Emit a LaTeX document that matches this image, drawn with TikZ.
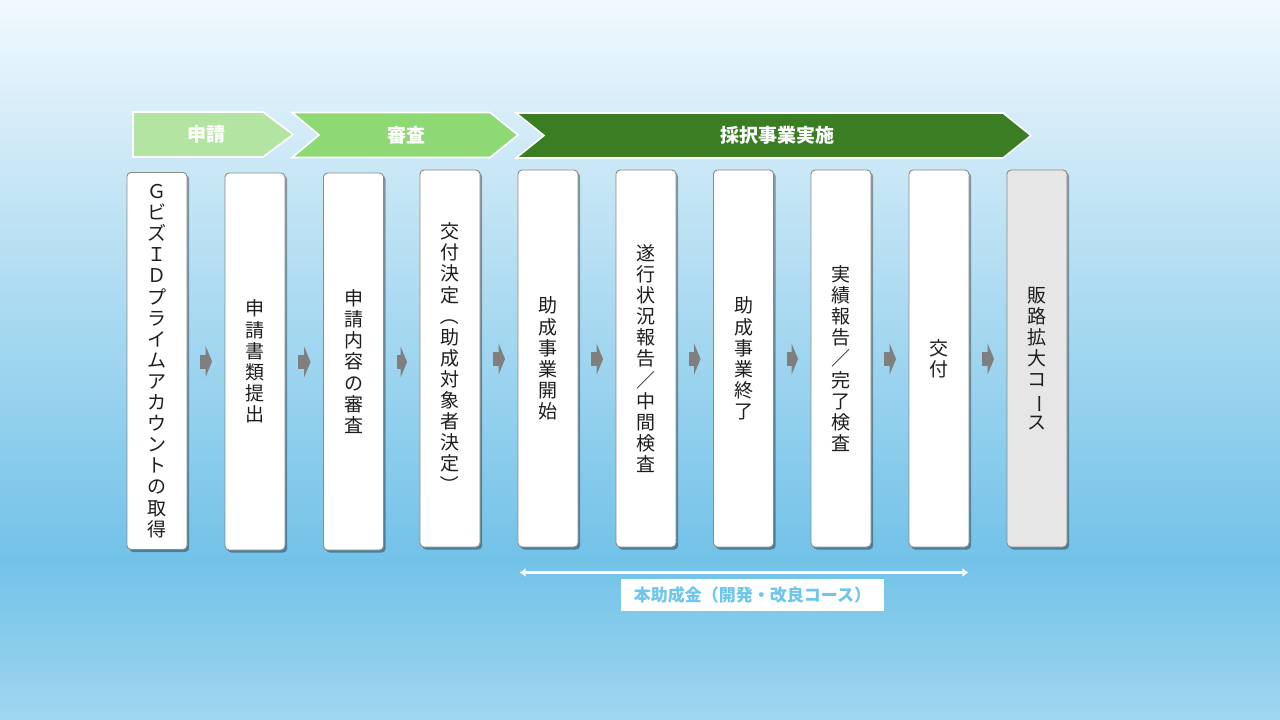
\documentclass[tikz,border=0pt]{standalone}
\usepackage{fontspec}
\usepackage{graphicx}
\setmainfont{Noto Sans CJK JP}
\usetikzlibrary{arrows.meta,shadows,calc}
\definecolor{bgA}{HTML}{F1F9FE}
\definecolor{bgB}{HTML}{C9E7F6}
\definecolor{bgC}{HTML}{72C2E8}
\definecolor{bgD}{HTML}{A0D6EF}
\definecolor{gA}{HTML}{B3E4A1}
\definecolor{gB}{HTML}{8FD974}
\definecolor{gC}{HTML}{3A7D22}
\definecolor{boxline}{HTML}{8A8A8A}
\definecolor{boxgray}{HTML}{E6E6E6}
\definecolor{arrgray}{HTML}{7F7F7F}
\definecolor{lbltext}{HTML}{6EC6EC}
\definecolor{txt}{HTML}{1E1E1E}
\newcommand\vrot[1]{\rotatebox[origin=c]{-90}{#1}}
\tikzset{
  stepbox/.style={draw=boxline, line width=0.9pt, fill=white, rounded corners=4pt,
    minimum width=60pt, minimum height=377pt, inner sep=0pt, align=center,
    text=txt, font=\fontsize{19}{21.1}\selectfont,
    drop shadow={shadow xshift=2.2pt, shadow yshift=-2.5pt, fill=black, opacity=0.35}},
  graybox/.style={stepbox, fill=boxgray},
  banner/.style={draw=white, line width=1.6pt},
  bannertext/.style={text=white, font=\fontsize{19}{22}\selectfont\bfseries},
  blockarr/.style={draw=arrgray, line width=14pt,
    -{Triangle[length=6.5pt,width=31pt]}, shorten <=13pt, shorten >=12.5pt},
  spanarr/.style={draw=white, line width=3.2pt,
    {Latex[length=6pt,width=9pt]}-{Latex[length=6pt,width=9pt]}},
  lblbox/.style={fill=white, minimum width=263pt, minimum height=32pt, inner sep=0pt,
    text=lbltext, font=\fontsize{17}{20}\selectfont\bfseries}
}
\begin{document}
\begin{tikzpicture}[x=1pt,y=-1pt]
\useasboundingbox (0,0) rectangle (1280,720);
% background
\shade[top color=bgA, bottom color=bgB] (0,0) rectangle (1280,170.5);
\shade[top color=bgB, bottom color=bgC] (0,170) rectangle (1280,560.5);
\shade[top color=bgC, bottom color=bgD] (0,560) rectangle (1280,720);

% banners
\path[banner, fill=gA] (133,112) -- (263,112) -- (293,134.5) -- (263,157) -- (133,157) -- cycle;
\node[bannertext] (ph1) at (206,134.5) {申請};
\path[banner, fill=gB] (292,112.5) -- (490,112.5) -- (518,135) -- (490,157.5) -- (292,157.5) -- (319,135) -- cycle;
\node[bannertext] (ph2) at (406,135) {審査};
\path[banner, fill=gC] (516,113) -- (1003,113) -- (1031,135.5) -- (1003,158) -- (516,158) -- (544,135.5) -- cycle;
\node[bannertext] (ph3) at (777,135.5) {採択事業実施};

% step boxes
\node[stepbox] (b1) at (157,361) {Ｇ\\ビ\\ズ\\Ｉ\\Ｄ\\プ\\ラ\\イ\\ム\\ア\\カ\\ウ\\ン\\ト\\の\\取\\得};
\node[stepbox] (b2) at (255,361.5) {申\\請\\書\\類\\提\\出};
\node[stepbox] (b3) at (353.5,361.5) {申\\請\\内\\容\\の\\審\\査};
\node[stepbox] (b4) at (450,358.5) {交\\付\\決\\定\\\vrot{（}\\助\\成\\対\\象\\者\\決\\定\\\vrot{）}};
\node[stepbox] (b5) at (548,358.5) {助\\成\\事\\業\\開\\始};
\node[stepbox] (b6) at (646,358.5) {遂\\行\\状\\況\\報\\告\\／\\中\\間\\検\\査};
\node[stepbox] (b7) at (743.5,358.5) {助\\成\\事\\業\\終\\了};
\node[stepbox] (b8) at (841,358.5) {実\\績\\報\\告\\／\\完\\了\\検\\査};
\node[stepbox] (b9) at (939,358.5) {交\\付};
\node[graybox] (b10) at (1037,358.5) {販\\路\\拡\\大\\コ\\\vrot{ー}\\ス};

% block arrows between steps
\foreach \a/\b in {b1/b2,b2/b3,b3/b4,b4/b5,b5/b6,b6/b7,b7/b8,b8/b9,b9/b10}{
  \draw[blockarr] ($(\a.east)+(0,0.5)$) -- ($(\a.east -| \b.west)+(0,0.5)$);
}

% span arrow and label
\coordinate (hl) at ($(b5.south west)+(2,25)$);
\coordinate (hr) at ($(b9.south east)+(-1,25)$);
\draw[spanarr] (hl) -- (hr);
\node[lblbox] (lbl) at (752.5,595) {本助成金（開発・改良コース）};
\end{tikzpicture}
\end{document}
